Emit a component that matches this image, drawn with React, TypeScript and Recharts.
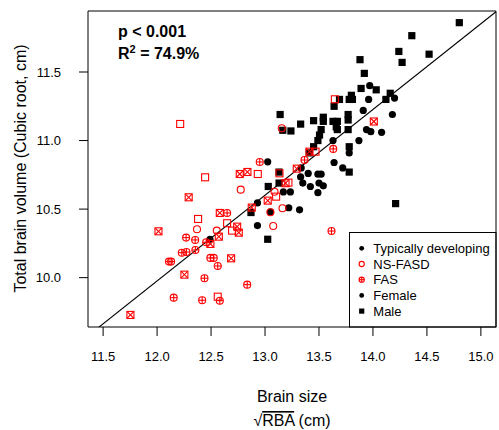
import { ScatterChart, Scatter, XAxis, YAxis, ReferenceLine, ReferenceArea } from "recharts";

const FONT = '"Liberation Sans", Arial, Helvetica, sans-serif';
const RED = "#ff0000";

const xTicks = [11.5, 12.0, 12.5, 13.0, 13.5, 14.0, 14.5, 15.0];
const yTicks = [10.0, 10.5, 11.0, 11.5];

// regression fit shown on the plot
const fitIntercept = 2.47;
const fitSlope = 0.6255;
const pText = "p < 0.001";
const r2Text = "74.9%";

const legendLabels = ["Typically developing", "NS-FASD", "FAS", "Female", "Male"];

// typically developing
const tdFemale: [number, number][] = [
  [13.97, 11.4], [13.96, 11.3], [14.2, 11.31], [13.91, 11.22], [14.18, 11.19],
  [13.94, 11.08], [13.98, 11.065], [14.08, 11.06], [13.87, 11.0], [13.63, 11.0],
  [13.78, 10.91], [13.64, 10.84], [13.72, 10.8], [13.335, 10.8], [13.4, 10.76],
  [13.49, 10.755], [13.52, 10.755], [13.33, 10.735], [13.35, 10.69], [13.42, 10.665],
  [13.5, 10.69], [13.54, 10.67], [13.49, 10.62], [13.235, 10.625], [13.17, 10.625],
  [13.22, 10.51], [13.32, 10.495], [13.05, 10.48], [12.93, 10.545], [12.93, 10.38],
  [13.025, 10.845], [12.49, 10.28],
];
const tdMale: [number, number][] = [
  [14.8, 11.86], [14.36, 11.765], [14.24, 11.65], [14.52, 11.63], [14.27, 11.57],
  [13.88, 11.59], [13.92, 11.49], [13.89, 11.38], [14.03, 11.37], [13.8, 11.33],
  [13.78, 11.3], [13.81, 11.3], [13.69, 11.3], [14.12, 11.3], [14.16, 11.345],
  [13.64, 11.25], [13.14, 11.19], [13.33, 11.12], [13.24, 11.07], [13.165, 11.075],
  [13.45, 11.145], [13.54, 11.17], [13.54, 11.14], [13.63, 11.14], [13.67, 11.14],
  [13.77, 11.15], [13.77, 11.19], [13.52, 11.08], [13.505, 11.04], [13.66, 11.1],
  [13.67, 11.08], [13.77, 11.08], [13.49, 11.0], [13.78, 10.955], [13.45, 10.955],
  [13.41, 10.91], [13.78, 10.77], [13.13, 10.77], [13.03, 10.665], [13.13, 10.69],
  [12.87, 10.475], [14.21, 10.54], [13.025, 10.28],
];
// NS-FASD
const nsFemale: [number, number][] = [
  [12.37, 10.353], [12.553, 10.343], [12.775, 10.642], [13.05, 10.477],
  [13.076, 10.377], [13.162, 10.506], [13.088, 10.627], [13.155, 11.09],
];
const nsMale: [number, number][] = [
  [12.214, 11.121], [12.445, 10.732], [12.38, 10.428], [12.649, 10.397],
  [12.695, 10.343], [12.562, 9.861], [12.933, 10.756], [13.103, 10.591],
  [13.134, 10.761], [13.217, 10.693], [13.468, 10.919], [13.647, 11.301],
];
// FAS
const fasFemale: [number, number][] = [
  [12.154, 9.854], [12.418, 9.835], [12.581, 9.832], [12.835, 9.949], [12.439, 9.996],
  [12.562, 10.085], [12.494, 10.144], [12.525, 10.144], [12.11, 10.117], [12.13, 10.117],
  [12.229, 10.182], [12.272, 10.187], [12.355, 10.202], [12.269, 10.292], [12.353, 10.275],
  [12.455, 10.258], [12.649, 10.472], [12.951, 10.844], [13.366, 10.858], [13.632, 10.939],
  [13.616, 10.34],
];
const fasMale: [number, number][] = [
  [11.753, 9.728], [12.253, 10.022], [12.686, 10.141], [12.494, 10.246], [12.572, 10.299],
  [12.742, 10.372], [12.757, 10.328], [12.581, 10.472], [12.013, 10.338], [12.293, 10.586],
  [12.766, 10.756], [12.837, 10.771], [12.877, 10.511], [13.025, 10.562], [13.19, 10.689],
  [13.294, 10.795], [13.412, 10.919], [14.008, 11.139],
];

const toPts = (a: [number, number][]) => a.map(([x, y]) => ({ x, y }));

const xMin = 11.36, xMax = 15.14;
const yMin = 9.64, yMax = 11.945;

const DotShape = (p: any, r = 3.6) => <circle cx={p.cx} cy={p.cy} r={r} fill="#000" />;
const SquareShape = (p: any, s = 3.6) => (
  <rect x={p.cx - s} y={p.cy - s} width={2 * s} height={2 * s} fill="#000" />
);
const OpenCircle = (p: any, r = 3.5) => (
  <circle cx={p.cx} cy={p.cy} r={r} fill="none" stroke={RED} strokeWidth={1.1} />
);
const OpenSquare = (p: any, s = 3.5) => (
  <rect x={p.cx - s} y={p.cy - s} width={2 * s} height={2 * s} fill="none" stroke={RED} strokeWidth={1.1} />
);
const CirclePlus = (p: any, r = 3.5) => (
  <g stroke={RED} strokeWidth={1.1} fill="none">
    <circle cx={p.cx} cy={p.cy} r={r} />
    <line x1={p.cx - r} y1={p.cy} x2={p.cx + r} y2={p.cy} />
    <line x1={p.cx} y1={p.cy - r} x2={p.cx} y2={p.cy + r} />
  </g>
);
const SquareX = (p: any, s = 3.5) => (
  <g stroke={RED} strokeWidth={1.1} fill="none">
    <rect x={p.cx - s} y={p.cy - s} width={2 * s} height={2 * s} />
    <line x1={p.cx - s} y1={p.cy - s} x2={p.cx + s} y2={p.cy + s} />
    <line x1={p.cx - s} y1={p.cy + s} x2={p.cx + s} y2={p.cy - s} />
  </g>
);

const legendShapes = [
  (p: any) => DotShape(p, 2.4),
  (p: any) => OpenCircle(p, 2.6),
  (p: any) => CirclePlus(p, 2.6),
  (p: any) => DotShape(p, 2.4),
  (p: any) => SquareShape(p, 2.6),
];

const tickStyle = { fill: "#000", fontSize: 13, fontFamily: FONT };

export default function App() {
  return (
    <div style={{ position: "absolute", left: 0, top: 0, background: "#fff" }}>
      <ScatterChart width={499} height={430} margin={{ top: 11, right: 3, bottom: 0, left: 0 }}>
        <XAxis
          type="number"
          dataKey="x"
          domain={[xMin, xMax]}
          ticks={xTicks}
          allowDataOverflow
          tickFormatter={(v: number) => v.toFixed(1)}
          axisLine={false}
          tickLine={{ stroke: "#000" }}
          tickSize={9}
          tickMargin={16}
          height={103}
          tick={tickStyle}
        />
        <YAxis
          type="number"
          dataKey="y"
          domain={[yMin, yMax]}
          ticks={yTicks}
          allowDataOverflow
          tickFormatter={(v: number) => v.toFixed(1)}
          axisLine={false}
          tickLine={{ stroke: "#000" }}
          tickSize={9}
          tickMargin={18}
          width={88}
          tick={tickStyle}
        />
        <ReferenceArea x1={xMin} x2={xMax} y1={yMin} y2={yMax} fill="none" stroke="#000" strokeWidth={1} ifOverflow="visible" />
        <ReferenceLine
          segment={[
            { x: xMin, y: fitIntercept + fitSlope * xMin },
            { x: xMax, y: fitIntercept + fitSlope * xMax },
          ]}
          stroke="#000"
          strokeWidth={1.1}
          ifOverflow="hidden"
        />
        <Scatter data={toPts(tdFemale)} shape={(p: any) => DotShape(p)} isAnimationActive={false} />
        <Scatter data={toPts(tdMale)} shape={(p: any) => SquareShape(p)} isAnimationActive={false} />
        <Scatter data={toPts(nsFemale)} shape={(p: any) => OpenCircle(p)} isAnimationActive={false} />
        <Scatter data={toPts(nsMale)} shape={(p: any) => OpenSquare(p)} isAnimationActive={false} />
        <Scatter data={toPts(fasFemale)} shape={(p: any) => CirclePlus(p)} isAnimationActive={false} />
        <Scatter data={toPts(fasMale)} shape={(p: any) => SquareX(p)} isAnimationActive={false} />

        <text x={118} y={36.5} fontFamily={FONT} fontSize={16} fontWeight="bold" fill="#000">{pText}</text>
        <text x={118} y={59} fontFamily={FONT} fontSize={16} fontWeight="bold" fill="#000">
          R<tspan dy={-6} fontSize={11}>2</tspan>
          <tspan dy={6}>{" = " + r2Text}</tspan>
        </text>

        <text
          x={26}
          y={168.5}
          transform="rotate(-90 26 168.5)"
          textAnchor="middle"
          fontFamily={FONT}
          fontSize={16}
          fill="#000"
        >
          Total brain volume (Cubic root, cm)
        </text>
        <text x={292} y={401.5} textAnchor="middle" fontFamily={FONT} fontSize={16} fill="#000">
          Brain size
        </text>
        <text x={292} y={426} textAnchor="middle" fontFamily={FONT} fontSize={16} fill="#000">
          √<tspan style={{ textDecoration: "overline" }}>RBA</tspan> (cm)
        </text>

        <g>
          <rect x={349.5} y={232.5} width={146.5} height={94.5} fill="#fff" stroke="#000" strokeWidth={1} />
          {legendLabels.map((label, i) => {
            const cy = 248.3 + i * 15.7;
            return (
              <g key={label}>
                {legendShapes[i]({ cx: 361.7, cy })}
                <text x={373.3} y={cy + 4.6} fontFamily={FONT} fontSize={13} fill="#000">
                  {label}
                </text>
              </g>
            );
          })}
        </g>
      </ScatterChart>
    </div>
  );
}
